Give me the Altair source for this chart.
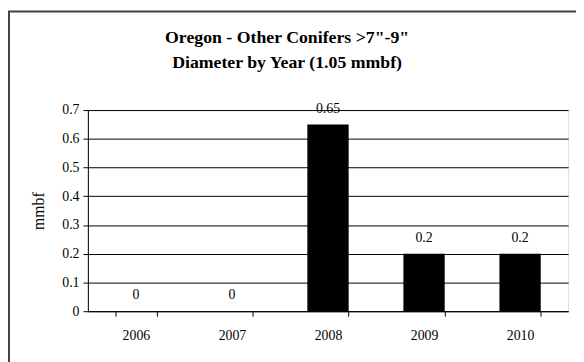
import altair as alt
import pandas as pd

years = ["2006", "2007", "2008", "2009", "2010"]
values = [0, 0, 0.65, 0.2, 0.2]
labels = ["0", "0", "0.65", "0.2", "0.2"]
y_ticks = [0, 0.1, 0.2, 0.3, 0.4, 0.5, 0.6, 0.7]
title_lines = ['Oregon - Other Conifers >7"-9"', "Diameter by Year (1.05 mmbf)"]

df = pd.DataFrame({"year": years, "value": values, "label": labels})

FONT = "Liberation Serif"

x_enc = alt.X(
    "year:N",
    sort=years,
    scale=alt.Scale(paddingInner=0.57, paddingOuter=0.285),
    axis=alt.Axis(
        title=None, labelAngle=0, grid=False, tickBand="extent",
        tickSize=5, labelPadding=13, domainColor="black", tickColor="black",
        labelFont=FONT, labelFontSize=14, labelColor="black",
    ),
)
y_enc = alt.Y(
    "value:Q",
    scale=alt.Scale(domain=[0, 0.7], nice=False),
    axis=alt.Axis(
        title="mmbf", values=y_ticks, format="~g", grid=True,
        gridColor="black", gridOpacity=1, gridWidth=1, labelOverlap=False,
        tickSize=5, tickColor="black", domainColor="black",
        labelFont=FONT, labelFontSize=14, labelColor="black", labelPadding=4,
        titleFont=FONT, titleFontSize=16, titleFontWeight="normal",
        titleColor="black", titlePadding=15,
    ),
)

bars = alt.Chart(df).mark_bar(color="black").encode(x=x_enc, y=y_enc)
texts = alt.Chart(df).mark_text(
    font=FONT, fontSize=14, fill="black", baseline="alphabetic", dy=-12
).encode(x=x_enc, y=y_enc, text="label:N")

frame = alt.Chart(pd.DataFrame({"a": [0]})).mark_rect(
    fill=None, stroke="#404040", strokeWidth=2
).encode(
    x=alt.value(-80), x2=alt.value(600), y=alt.value(-100), y2=alt.value(400)
)

t1 = alt.Chart(pd.DataFrame({"t": [title_lines[0]]})).mark_text(
    font=FONT, fontSize=18, fontWeight="bold", fill="black",
    align="center", baseline="alphabetic"
).encode(text="t:N", x=alt.value(202), y=alt.value(-68))
t2 = alt.Chart(pd.DataFrame({"t": [title_lines[1]]})).mark_text(
    font=FONT, fontSize=18, fontWeight="bold", fill="black",
    align="center", baseline="alphabetic"
).encode(text="t:N", x=alt.value(202), y=alt.value(-43))

chart = alt.layer(frame, bars, texts, t1, t2).properties(
    width=487,
    height=204,
    autosize=alt.AutoSizeParams(type="none"),
    padding={"left": 81, "top": 101, "right": 8, "bottom": 49},
).configure_view(stroke="black", strokeWidth=1).configure(background="white")

chart.save("out.html", embed_options={"renderer": "svg", "actions": False})
